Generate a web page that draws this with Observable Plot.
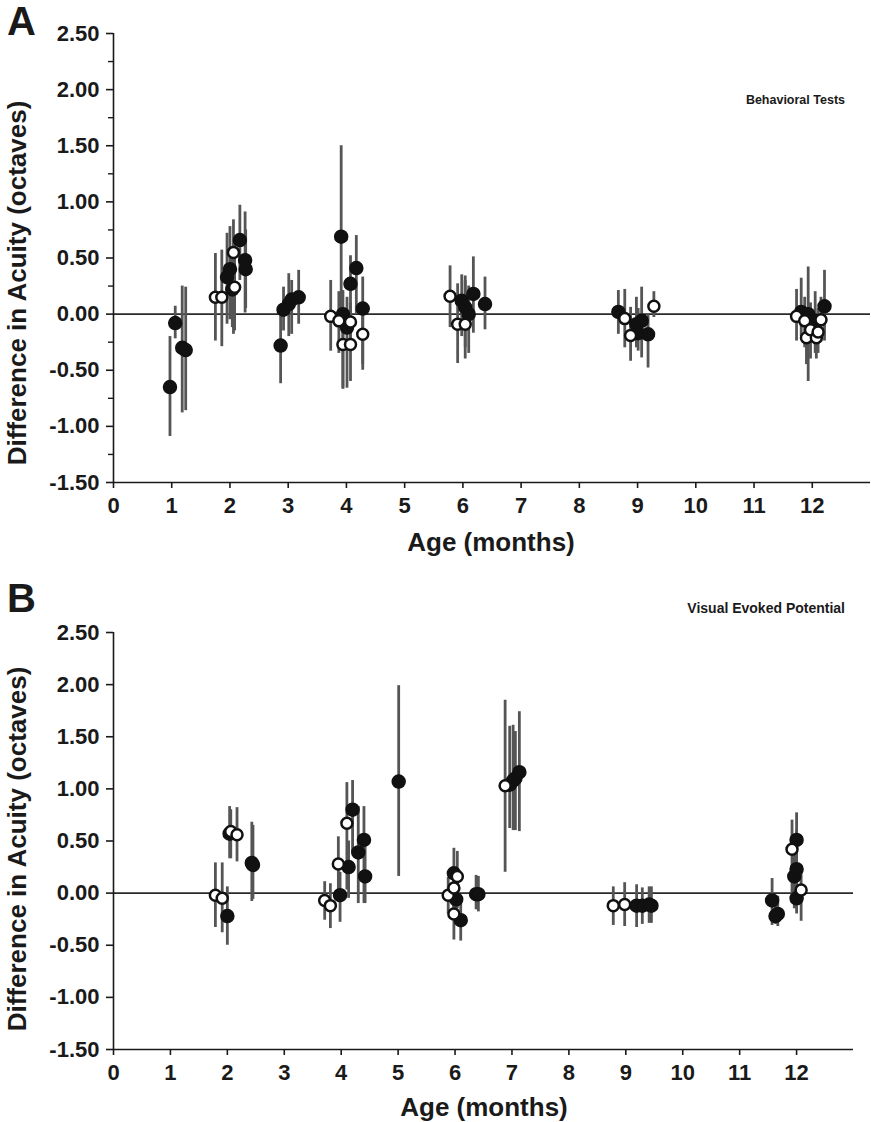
<!DOCTYPE html>
<html><head><meta charset="utf-8">
<script src="https://cdn.jsdelivr.net/npm/d3@7"></script>
<script src="https://cdn.jsdelivr.net/npm/@observablehq/plot@0.6"></script>
<style>
html,body{margin:0;padding:0;background:#fff}
body{width:871px;height:1122px;position:relative;overflow:hidden;font-family:"Liberation Sans",Arial,Helvetica,sans-serif;color:#1a1a1a}
.panel{position:absolute;left:0}
.txt{position:absolute;font-weight:bold;line-height:1;white-space:nowrap}
.letter{font-size:40px}
.title{font-size:14px;text-align:right}
.xlab{font-size:26px;transform:translateX(-50%)}
.ylab{font-size:26px;width:500px;height:26px;text-align:center;transform:rotate(-90deg)}
</style>
</head><body>
<div id="pA" class="panel" style="top:0"></div>
<div id="pB" class="panel" style="top:580px"></div>
<div class="txt letter" style="left:7px;top:1px">A</div>
<div class="txt letter" style="left:7px;top:578px">B</div>
<div class="txt title" style="right:26px;top:94px;font-size:12.5px">Behavioral Tests</div>
<div class="txt title" style="right:26px;top:601px">Visual Evoked Potential</div>
<div class="txt xlab" style="left:491px;top:529px">Age (months)</div>
<div class="txt xlab" style="left:484px;top:1094px">Age (months)</div>
<div class="txt ylab" style="left:-233px;top:270px">Difference in Acuity (octaves)</div>
<div class="txt ylab" style="left:-233px;top:836px">Difference in Acuity (octaves)</div>
<script>
// ---- Panel A: Behavioral Tests ----
const ageA  = [0.97,1.06,1.18,1.24,1.75,1.86,1.95,2.00,2.04,2.06,2.08,2.17,2.26,2.27,2.87,2.92,3.01,3.06,3.18,3.73,3.87,3.91,3.94,3.94,4.01,4.07,4.07,4.07,4.17,4.28,4.28,5.78,5.91,5.98,6.04,6.04,6.10,6.18,6.38,8.67,8.78,8.88,8.98,9.01,9.07,9.18,9.28,11.73,11.81,11.87,11.90,11.93,11.97,12.05,12.07,12.10,12.15,12.21];
const diffA = [-0.65,-0.08,-0.30,-0.32,0.15,0.15,0.33,0.40,0.22,0.55,0.24,0.66,0.48,0.40,-0.28,0.04,0.09,0.13,0.15,-0.02,-0.06,0.69,0.00,-0.27,-0.12,-0.27,-0.07,0.27,0.41,0.05,-0.18,0.16,-0.09,0.12,0.06,-0.09,0.00,0.18,0.09,0.02,-0.04,-0.19,-0.09,-0.17,-0.06,-0.18,0.07,-0.02,0.02,-0.06,-0.21,0.00,-0.14,-0.06,-0.21,-0.16,-0.05,0.07];
const loA   = [-1.09,-0.22,-0.88,-0.86,-0.24,-0.29,-0.09,-0.05,-0.12,-0.18,-0.15,0.30,0.01,0.05,-0.62,-0.15,-0.20,-0.18,-0.09,-0.33,-0.35,-0.02,-0.67,-0.66,-0.66,-0.60,-0.30,-0.18,0.00,-0.50,-0.45,-0.12,-0.44,-0.20,-0.30,-0.40,-0.35,-0.17,-0.14,-0.18,-0.30,-0.42,-0.30,-0.33,-0.39,-0.48,-0.03,-0.24,-0.20,-0.30,-0.45,-0.60,-0.40,-0.35,-0.40,-0.35,-0.25,-0.24];
const hiA   = [-0.20,0.07,0.25,0.24,0.54,0.57,0.72,0.78,0.60,0.84,0.62,0.97,0.91,0.75,0.06,0.24,0.36,0.30,0.39,0.30,0.20,1.50,0.21,0.00,0.15,-0.05,0.10,0.52,0.70,0.33,0.10,0.43,0.27,0.35,0.30,0.34,0.25,0.51,0.33,0.21,0.22,0.06,0.15,0.05,0.24,0.00,0.20,0.22,0.32,0.15,0.05,0.42,0.10,0.20,-0.02,0.05,0.15,0.39];
const kindA = ["f","f","f","f","o","o","f","f","f","o","o","f","f","f","f","f","f","f","f","o","o","f","f","o","f","o","o","f","f","f","o","o","o","f","f","o","f","f","f","f","o","o","f","f","f","f","o","o","f","o","o","f","o","f","o","o","o","f"];

// ---- Panel B: Visual Evoked Potential ----
const ageB  = [1.79,1.91,2.00,2.04,2.06,2.17,2.43,2.45,3.71,3.81,3.98,3.95,4.10,4.13,4.20,4.30,4.40,4.42,5.01,5.88,5.98,6.04,5.98,6.02,5.98,6.10,6.37,6.41,6.88,6.96,7.02,7.06,7.13,8.78,8.98,9.19,9.29,9.41,9.45,11.57,11.67,11.63,11.92,12.00,11.96,12.00,12.00,12.08];
const diffB = [-0.02,-0.05,-0.22,0.57,0.59,0.56,0.29,0.27,-0.07,-0.12,-0.02,0.28,0.67,0.25,0.80,0.39,0.51,0.16,1.07,-0.02,0.19,0.16,0.05,-0.06,-0.20,-0.26,-0.01,-0.01,1.03,1.04,1.08,1.10,1.16,-0.12,-0.11,-0.12,-0.12,-0.11,-0.12,-0.07,-0.20,-0.22,0.42,0.51,0.16,0.23,-0.05,0.03];
const loB   = [-0.33,-0.38,-0.50,0.33,0.33,0.30,-0.08,-0.06,-0.26,-0.34,-0.28,0.00,0.03,-0.05,0.40,-0.10,-0.10,-0.10,0.16,-0.20,-0.24,-0.15,-0.15,-0.30,-0.45,-0.46,-0.16,-0.18,0.20,0.62,0.60,0.60,0.59,-0.31,-0.32,-0.33,-0.30,-0.29,-0.29,-0.31,-0.32,-0.30,-0.10,-0.15,-0.15,-0.10,-0.20,-0.27];
const hiB   = [0.29,0.29,0.06,0.83,0.80,0.82,0.68,0.65,0.11,0.09,0.20,0.54,1.06,0.50,1.08,0.83,0.83,0.44,1.99,0.15,0.43,0.40,0.25,0.15,0.07,-0.03,0.17,0.16,1.85,1.60,1.61,1.55,1.74,0.06,0.10,0.08,0.05,0.06,0.06,0.14,-0.03,-0.10,0.70,0.77,0.50,0.60,0.30,0.20];
const kindB = ["o","o","f","f","o","o","f","f","o","o","f","o","o","f","f","f","f","f","f","o","f","o","o","f","o","f","f","f","o","f","f","f","f","o","o","f","f","f","f","f","f","f","o","f","f","f","f","o"];

const xTicks = [0,1,2,3,4,5,6,7,8,9,10,11,12];
const yTicks = [-1.5,-1.0,-0.5,0,0.5,1.0,1.5,2.0,2.5];
const yMinor = [-1.25,-0.75,-0.25,0.25,0.75,1.25,1.75,2.25];

function rows(age, diff, lo, hi, kind) {
  return age.map((a, i) => ({age: a, diff: diff[i], lo: lo[i], hi: hi[i], kind: kind[i]}));
}

function panel(data, opts) {
  const marks = [
    Plot.ruleY([opts.zero], {stroke: "#2a2a2a", strokeWidth: 1.6}),
    Plot.ruleX(data, {x: "age", y1: "lo", y2: "hi", stroke: "#555", strokeWidth: 2.8}),
    Plot.dot(data.filter(d => d.kind === "f"), {x: "age", y: "diff", r: 6.5, fill: "#111", stroke: "#111", strokeWidth: 1.5}),
    Plot.dot(data.filter(d => d.kind === "o"), {x: "age", y: "diff", r: 5.5, fill: "#fff", stroke: "#111", strokeWidth: 2.5}),
    Plot.ruleX([0], {stroke: "#1a1a1a", strokeWidth: 1.6}),
    Plot.ruleY([-1.5], {stroke: "#1a1a1a", strokeWidth: 1.6}),
    Plot.axisX({ticks: xTicks, tickSize: 6, tickPadding: 9, tickFormat: d => String(d), label: null, stroke: "#1a1a1a", strokeWidth: 1.6, fontSize: 22, fontWeight: "bold", fill: "#1a1a1a"}),
    Plot.axisY({ticks: yTicks, tickSize: 7, tickPadding: 7, tickFormat: d => d.toFixed(2), label: null, stroke: "#1a1a1a", strokeWidth: 1.6, fontSize: 22, fontWeight: "bold", fill: "#1a1a1a"})
  ];
  if (opts.minor) marks.push(Plot.axisY({ticks: yMinor, tickSize: 5, tickFormat: () => "", label: null, stroke: "#1a1a1a", strokeWidth: 1.4}));
  return Plot.plot({
    width: 871,
    height: opts.height,
    marginTop: opts.mt,
    marginBottom: opts.mb,
    marginLeft: 113,
    marginRight: opts.mr,
    x: {domain: [0, 13]},
    y: {domain: [-1.5, 2.5]},
    style: "font-family:'Liberation Sans',Arial,sans-serif;font-size:22px;font-weight:bold;background:transparent;color:#1a1a1a;",
    marks
  });
}

document.getElementById("pA").append(panel(rows(ageA, diffA, loA, hiA, kindA), {height: 560, mt: 33, mb: 78, mr: 1, minor: true, zero: 0}));
document.getElementById("pB").append(panel(rows(ageB, diffB, loB, hiB, kindB), {height: 542, mt: 52, mb: 73, mr: 18, minor: false, zero: 0}));
</script>
</body></html>
